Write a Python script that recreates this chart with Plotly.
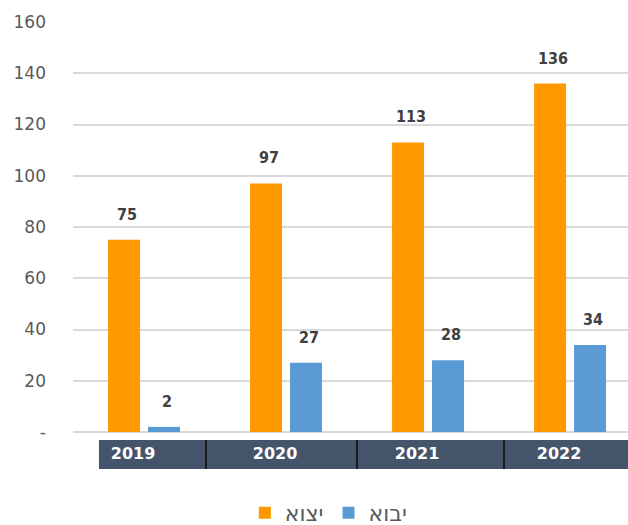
import plotly.graph_objects as go

years = ["2019", "2020", "2021", "2022"]
exports = [75, 97, 113, 136]   # יצוא
imports = [2, 27, 28, 34]      # יבוא
export_name = "יצוא"
import_name = "יבוא"
y_ticks = [0, 20, 40, 60, 80, 100, 120, 140, 160]
y_ticktext = ["-", "20", "40", "60", "80", "100", "120", "140", "160"]

ORANGE = "#FF9900"
BLUE = "#5B9BD5"
GRAY = "#595959"
BAND = "#44546A"
LABEL_FONT = dict(family="DejaVu Sans Condensed, DejaVu Sans", size=16, color="#404040", weight="bold")

fig = go.Figure()
fig.add_trace(go.Bar(x=years, y=exports, name=export_name, marker_color=ORANGE,
                     marker_line_width=0))
fig.add_trace(go.Bar(x=years, y=imports, name=import_name, marker_color=BLUE,
                     marker_line_width=0))

annotations = []
for i, v in enumerate(exports):
    annotations.append(dict(x=i, y=v, xref="x", yref="y", text=str(v),
                            showarrow=False, xshift=-17, yshift=14, yanchor="bottom",
                            font=LABEL_FONT))
for i, v in enumerate(imports):
    annotations.append(dict(x=i, y=v, xref="x", yref="y", text=str(v),
                            showarrow=False, xshift=23, yshift=14, yanchor="bottom",
                            font=LABEL_FONT))

shapes = [dict(type="rect", xref="paper", yref="paper", x0=0.0468, x1=1.0,
               y0=-0.0902, y1=-0.0195, fillcolor=BAND, line_width=0, layer="below")]
for px in [0.2396, 0.5117, 0.7766]:
    shapes.append(dict(type="line", xref="paper", yref="paper", x0=px, x1=px,
                       y0=-0.0902, y1=-0.0195, line=dict(color="#1a1a1a", width=2)))

fig.update_layout(
    width=628, height=525,
    margin=dict(l=73, r=0, t=22, b=93, autoexpand=False),
    paper_bgcolor="white", plot_bgcolor="white",
    barmode="group", bargap=0.437, bargroupgap=0.2,
    showlegend=True,
    legend=dict(orientation="h", x=0.461, xanchor="center", y=-0.1976, yanchor="middle",
                font=dict(family="DejaVu Sans", size=22, color=GRAY),
                itemwidth=30, traceorder="normal"),
    annotations=annotations,
    shapes=shapes,
    xaxis=dict(type="category", range=[-0.5, 3.408], showgrid=False, showline=False,
               zeroline=False,
               tickfont=dict(family="DejaVu Sans", size=16, color="white", weight="bold"),
               ticklabelshift=-11, ticklabelstandoff=10),
    yaxis=dict(range=[0, 160], tickvals=y_ticks, ticktext=y_ticktext,
               showgrid=True, gridcolor="#D9D9D9", gridwidth=1.5,
               zeroline=True, zerolinecolor="#D9D9D9", zerolinewidth=1.5,
               showline=False,
               tickfont=dict(family="DejaVu Sans", size=17, color=GRAY),
               ticklabelstandoff=26),
)

fig.write_html("out.html")
